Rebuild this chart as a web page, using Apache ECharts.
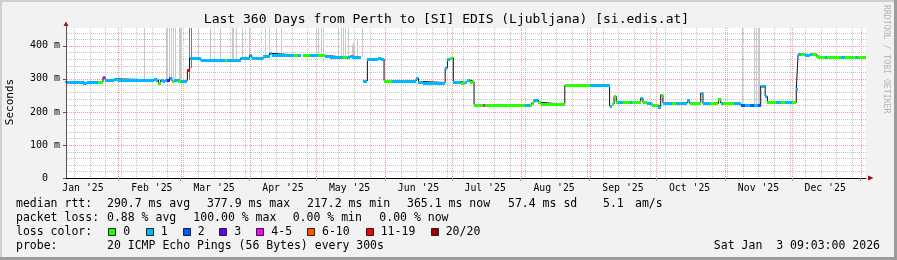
<!DOCTYPE html>
<html><head><meta charset="utf-8">
<script src="https://cdn.jsdelivr.net/npm/echarts@6/dist/echarts.min.js"></script>
<style>html,body{margin:0;padding:0;background:#f2f2f2}#c{width:897px;height:260px}</style>
</head><body><div id="c"></div>
<script>
// ---------------- data ----------------
const chartTitle = 'Last 360 Days from Perth to [SI] EDIS (Ljubljana) [si.edis.at]';
const yAxisName = 'Seconds';
const watermark = 'RRDTOOL / TOBI OETIKER';
const rangeStart = '2025-01-08 09:03';
const rangeEnd = '2026-01-03 09:03';
const yMax = 454;
const yTicks = [0, 100, 200, 300, 400];
const yTickLabels = ['0  ', '100 m', '200 m', '300 m', '400 m'];
const monthNames = ['Jan','Feb','Mar','Apr','May','Jun','Jul','Aug','Sep','Oct','Nov','Dec'];

// median rtt (ms), step starts; loss = index into loss classes
const medDates = [
'2025-01-08','2025-01-16','2025-01-18','2025-01-23','2025-01-25','2025-01-26','2025-01-30','2025-02-01',
'2025-02-17','2025-02-18','2025-02-19','2025-02-20','2025-02-21','2025-02-22','2025-02-23','2025-02-24',
'2025-02-25','2025-02-26','2025-02-28','2025-03-01','2025-03-04','2025-03-05','2025-03-10','2025-03-21',
'2025-03-22','2025-03-28','2025-04-01','2025-04-02','2025-04-07','2025-04-10','2025-04-11','2025-04-21',
'2025-04-23','2025-04-24','2025-04-25','2025-04-28','2025-05-02','2025-05-05','2025-05-07','2025-05-13',
'2025-05-15','2025-05-16','2025-05-17','2025-05-21','2025-05-22','2025-05-24','2025-05-29','2025-05-30',
'2025-05-31 12:00','2025-06-04','2025-06-15','2025-06-16','2025-06-18','2025-06-28','2025-06-29','2025-06-30',
'2025-07-01 16:00','2025-07-05','2025-07-07','2025-07-08','2025-07-09','2025-07-11','2025-07-15','2025-07-16',
'2025-07-31','2025-08-03','2025-08-05','2025-08-06','2025-08-07','2025-08-09','2025-08-10','2025-08-20 20:00',
'2025-09-01','2025-09-10','2025-09-11','2025-09-12','2025-09-13','2025-09-14','2025-09-16','2025-09-19',
'2025-09-20','2025-09-24','2025-09-25','2025-09-27','2025-09-29','2025-10-02','2025-10-03','2025-10-04',
'2025-10-08','2025-10-10','2025-10-15','2025-10-16','2025-10-21','2025-10-22','2025-10-25','2025-10-29',
'2025-10-30','2025-10-31','2025-11-05','2025-11-08','2025-11-10','2025-11-12','2025-11-14','2025-11-16',
'2025-11-17','2025-11-19','2025-11-20','2025-11-24','2025-11-26','2025-11-28','2025-12-01','2025-12-03',
'2025-12-03 20:00','2025-12-05','2025-12-07','2025-12-09','2025-12-10','2025-12-12','2025-12-13','2025-12-16',
'2025-12-17','2025-12-23','2025-12-25','2025-12-30','2025-12-31'
];
const medValues = [
291,288,291,290,305,297,300,297,
300,297,289,297,293,297,297,304,
294,297,295,295,327,363,356,356,
356,363,371,363,368,377,373,373,
373,null,371,371,371,370,366,366,
366,369,366,null,294,360,363,360,
295,295,302,292,289,333,360,364,
292,289,292,297,292,222,222,222,
220,220,220,228,236,229,223,280,
280,218,224,247,229,229,229,229,
229,242,229,227,220,216,252,227,
227,227,237,227,257,226,226,240,
227,227,227,220,220,220,220,220,
279,247,229,229,229,229,229,270,
375,375,373,375,375,369,365,365,
365,365,365,365,365
];
const medLoss = [
1,1,1,0,4,1,1,1,
1,1,0,1,1,1,3,1,
0,1,0,1,6,1,1,0,
1,1,1,1,1,1,1,0,
1,1,0,1,0,1,1,0,
1,1,1,1,1,1,1,1,
0,1,1,1,1,1,1,0,
1,0,1,1,0,0,4,0,
0,1,0,0,1,0,0,0,
1,1,0,0,0,1,0,1,
0,1,0,1,0,1,0,1,
0,1,1,0,1,1,0,0,
1,0,1,2,1,2,1,2,
1,1,0,1,0,1,0,1,
1,0,1,1,0,0,0,1,
0,1,0,1,0
];

// smoke (outlier pings) reaching above the median
const smokeDates = [
'2025-02-12 14:00','2025-02-22 10:00','2025-02-22 23:00','2025-02-23 21:00','2025-02-24 15:00','2025-02-25 16:00',
'2025-02-26 10:00','2025-02-28 05:00','2025-02-28 16:00','2025-03-01 03:00','2025-03-08 22:00','2025-03-14 05:00',
'2025-03-18 17:00','2025-03-23 22:00','2025-03-24 17:00','2025-03-25 17:00','2025-03-28 10:00','2025-03-31 22:00',
'2025-04-07 22:00','2025-04-09 22:00','2025-04-12 22:00','2025-04-15 03:00','2025-04-30 22:00','2025-05-01 22:00',
'2025-05-03 03:00','2025-05-03 22:00','2025-05-10 22:00','2025-05-12 03:00','2025-05-13 05:00','2025-05-13 22:00',
'2025-05-15 10:00','2025-05-17 05:00','2025-05-17 17:00','2025-05-18 03:00','2025-05-19 05:00','2025-05-21 10:00',
'2025-11-08 10:00','2025-11-14 03:00','2025-11-14 22:00','2025-11-15 15:00','2025-11-16 10:00'
];
const smokeTops = [
460,460,460,460,460,460,
460,460,460,460,460,460,
460,460,460,460,460,460,
460,460,460,460,460,460,
460,460,460,460,460,460,
460,403,410,400,417,460,
460,460,460,460,460
];
const darkSmokeDates = ['2025-03-04 21:00','2025-03-05 10:00'];
const darkSmokeTops = [460, 460];

const lossLabels = ['0','1','2','3','4-5','6-10','11-19','20/20'];
const rttStats = ['290.7 ms avg','377.9 ms max','217.2 ms min','365.1 ms now','57.4 ms sd','5.1','am/s'];
const lossStats = ['0.88 % avg','100.00 % max','0.00 % min','0.00 % now'];
const probeText = '20 ICMP Echo Pings (56 Bytes) every 300s';
const stampText = 'Sat Jan  3 09:03:00 2026';

// ---------------- styles ----------------
const lossColors = ['#26ff00','#00b8ff','#0059ff','#5e00ff','#ff00ff','#ff5500','#ff0000','#a00000'];
const MONO = '"DejaVu Sans Mono", monospace';
const MAJOR = '#f09a9a', MINOR = '#c4c4c4';

// ---------------- helpers ----------------
const DAY = 86400000;
function T(s) {
  const m = s.match(/(\d+)-(\d+)-(\d+)(?: (\d+):(\d+))?/);
  return Date.UTC(+m[1], +m[2] - 1, +m[3], m[4] ? +m[4] : 0, m[5] ? +m[5] : 0);
}
const xMin = T(rangeStart), xMax = T(rangeEnd);
const medT = medDates.map(T);
function medianAt(t) {
  let v = null;
  for (let i = 0; i < medT.length && medT[i] <= t; i++) if (medValues[i] != null) v = medValues[i];
  return v;
}

const monthStarts = [];
for (let y = 2025, m = 0; ; ) { const t = Date.UTC(y, m, 1); if (t > xMax) break; monthStarts.push(t); if (++m === 12) { m = 0; y++; } }
const monthTicks = monthStarts.filter(t => t >= xMin && t <= xMax);
const monthLabelPos = monthStarts.map(t => t + 15 * DAY).filter(t => t >= xMin && t <= xMax);
const weekLines = [];
for (let w = Date.UTC(2025, 0, 5); w <= xMax; w += 7 * DAY) if (w >= xMin) weekLines.push(w);

const vGrid = weekLines.map(t => [t, 0]).concat(monthTicks.map(t => [t, 1]));
const hGrid = [];
for (let v = 20; v < yMax; v += 20) if (v % 100) hGrid.push([xMin, v, 0]);
yTicks.filter(v => v > 0).forEach(v => hGrid.push([xMin, v, 1]));

const stepData = medT.map((t, i) => [t, medValues[i]]);
stepData.push([xMax, medValues[medValues.length - 1]]);
const segData = [];
medT.forEach((t, i) => {
  if (medValues[i] == null) return;
  segData.push([t, i + 1 < medT.length ? medT[i + 1] : xMax, medValues[i], medLoss[i]]);
});
const smokeData = smokeDates.map((d, i) => [T(d), medianAt(T(d)), smokeTops[i]]);
const darkSmokeData = darkSmokeDates.map((d, i) => [T(d), medianAt(T(d)) - 30, darkSmokeTops[i]]);

function smokeRenderer(color) {
  return function (params, api) {
    const cs = params.coordSys;
    const p0 = api.coord([api.value(0), api.value(1)]);
    const p1 = api.coord([api.value(0), api.value(2)]);
    const x = Math.round(p0[0]);
    const yTop = Math.max(p1[1], cs.y);
    return { type: 'rect', shape: { x: x, y: yTop, width: 1, height: p0[1] - yTop }, style: { fill: color } };
  };
}

// ---------------- legend graphics ----------------
const g = [];
g.push({ type: 'rect', shape: { x: 0, y: 0, width: 897, height: 2 }, style: { fill: '#cfcfcf' } });
g.push({ type: 'rect', shape: { x: 0, y: 0, width: 2, height: 260 }, style: { fill: '#cfcfcf' } });
g.push({ type: 'rect', shape: { x: 894, y: 0, width: 3, height: 260 }, style: { fill: '#9c9c9c' } });
g.push({ type: 'rect', shape: { x: 0, y: 257, width: 897, height: 3 }, style: { fill: '#9c9c9c' } });
function txt(s, x, y, size, opts) {
  return Object.assign({ type: 'text', x: x, y: y, style: { text: s, fontFamily: MONO, fontSize: size, fill: '#000', align: 'left', verticalAlign: 'middle' } }, opts || {});
}
g.push(txt(chartTitle, 446.5, 19.5, 13, {}));
g[g.length - 1].style.align = 'center';
const yt = txt(yAxisName, 10.5, 102, 11, { rotation: Math.PI / 2 }); yt.style.align = 'center'; g.push(yt);
const wm = txt(watermark, 886, 5, 8.2, { rotation: -Math.PI / 2 }); wm.style.fill = '#b4b4b4'; g.push(wm);
g.push({ type: 'polygon', shape: { points: [[63.5, 26], [68.5, 26], [66, 21.5]] }, style: { fill: '#9a1010' } });
g.push({ type: 'rect', shape: { x: 66, y: 25, width: 1, height: 3 }, style: { fill: '#555' } });
g.push({ type: 'polygon', shape: { points: [[868, 175.5], [868, 180.5], [873.5, 178]] }, style: { fill: '#9a1010' } });

const F = 11.5;
const r1 = 204.3, r2 = 218.3, r3 = 232.3, r4 = 246.3;
g.push(txt('median rtt:', 16, r1, F));
[107, 207, 307, 407, 508, 603, 635].forEach((x, i) => g.push(txt(rttStats[i], x, r1, F)));
g.push(txt('packet loss:', 16, r2, F));
[107, 193.3, 292.7, 379.3].forEach((x, i) => g.push(txt(lossStats[i], x, r2, F)));
g.push(txt('loss color:', 16, r3, F));
[108.3, 145.7, 182.7, 219.3, 256.3, 307, 365.7, 430.7].forEach((x, i) => {
  g.push({ type: 'rect', shape: { x: Math.round(x) + 0.5, y: 228.5, width: 7, height: 7 }, style: { fill: lossColors[i], stroke: '#222', lineWidth: 1 } });
  g.push(txt(lossLabels[i], x + 15, r3, F));
});
g.push(txt('probe:', 16, r4, F));
g.push(txt(probeText, 107, r4, F));
const st = txt(stampText, 880, r4, F); st.style.align = 'right'; g.push(st);

// ---------------- chart ----------------
const chart = echarts.init(document.getElementById('c'), null, { renderer: 'canvas' });
chart.setOption({
  animation: false,
  backgroundColor: '#f2f2f2',
  grid: { left: 66, right: 31, top: 28, bottom: 82, show: true, backgroundColor: '#ffffff', borderWidth: 0 },
  xAxis: {
    type: 'value', min: xMin, max: xMax,
    splitLine: { show: false },
    axisLine: { lineStyle: { color: '#000', width: 1 } },
    axisTick: { customValues: monthTicks, length: 3, lineStyle: { color: '#e88080' } },
    axisLabel: {
      customValues: monthLabelPos, margin: 5, fontFamily: MONO, fontSize: 9.8, color: '#000',
      formatter: v => { const d = new Date(v); return monthNames[d.getUTCMonth()] + " '" + String(d.getUTCFullYear()).slice(2); }
    }
  },
  yAxis: {
    type: 'value', min: 0, max: yMax, interval: 100,
    splitLine: { show: false },
    axisLine: { show: true, lineStyle: { color: '#555', width: 1 } },
    axisTick: { show: true, customValues: yTicks, length: 3, lineStyle: { color: '#555' } },
    axisLabel: {
      customValues: yTicks, margin: 6, fontFamily: MONO, fontSize: 10, color: '#000',
      formatter: v => { const i = yTicks.indexOf(v); return i >= 0 ? yTickLabels[i] : ''; }
    }
  },
  graphic: g,
  series: [
    {
      type: 'custom', name: 'hgrid', z: 1, silent: true, data: hGrid, encode: { x: 0, y: 1 },
      renderItem: (params, api) => {
        const cs = params.coordSys;
        const y = Math.round(api.coord([api.value(0), api.value(1)])[1]) + 0.5;
        return { type: 'line', shape: { x1: cs.x + 1, y1: y, x2: cs.x + cs.width, y2: y }, style: { stroke: api.value(2) ? MAJOR : MINOR, lineWidth: 1, lineDash: [1, 1] } };
      }
    },
    {
      type: 'custom', name: 'vgrid', z: 1, silent: true, data: vGrid, encode: { x: 0, y: 1 },
      renderItem: (params, api) => {
        const cs = params.coordSys;
        const x = Math.round(api.coord([api.value(0), 0])[0]) + 0.5;
        return { type: 'line', shape: { x1: x, y1: cs.y, x2: x, y2: cs.y + cs.height }, style: { stroke: api.value(1) ? MAJOR : MINOR, lineWidth: 1, lineDash: [1, 1] } };
      }
    },
    { type: 'custom', name: 'smoke', z: 2, silent: true, data: smokeData, encode: { x: 0, y: [1, 2] }, renderItem: smokeRenderer('#c8c8c8') },
    { type: 'custom', name: 'smoke2', z: 2, silent: true, data: darkSmokeData, encode: { x: 0, y: [1, 2] }, renderItem: smokeRenderer('#7a7a7a') },
    {
      type: 'line', name: 'median', z: 3, step: 'end', data: stepData, showSymbol: false, connectNulls: false,
      lineStyle: { color: '#111', width: 1 }, clip: true
    },
    {
      type: 'custom', name: 'loss', z: 4, data: segData, encode: { x: [0, 1], y: 2 },
      renderItem: (params, api) => {
        const cs = params.coordSys;
        const p0 = api.coord([api.value(0), api.value(2)]);
        const p1 = api.coord([api.value(1), api.value(2)]);
        let x0 = Math.max(Math.round(p0[0]), cs.x + 1), x1 = Math.min(Math.round(p1[0]), cs.x + cs.width);
        if (x1 <= x0) x1 = x0 + 1;
        return { type: 'rect', shape: { x: x0, y: Math.round(p0[1]) - 1, width: x1 - x0, height: 3 }, style: { fill: lossColors[api.value(3)] } };
      }
    }
  ]
});
</script></body></html>
